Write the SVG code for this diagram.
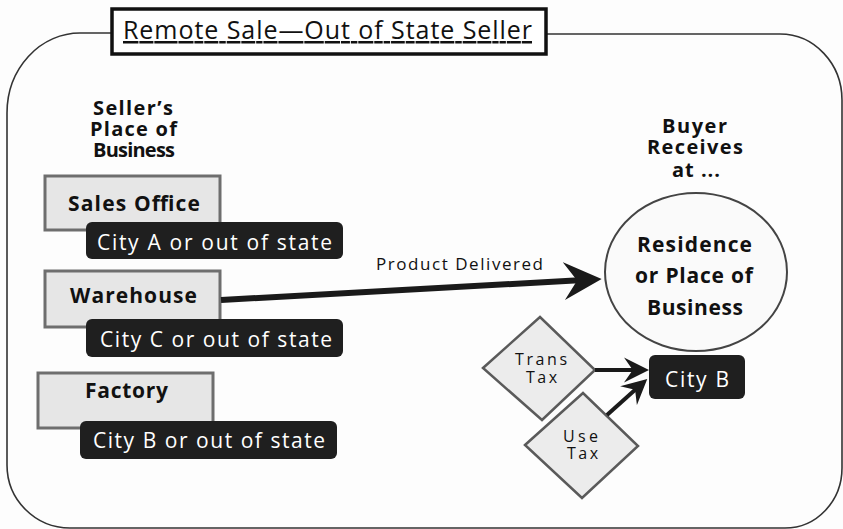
<svg xmlns="http://www.w3.org/2000/svg" width="843" height="529" viewBox="0 0 843 529">
<defs>
<style>
.t{font-family:"Open Sans","Noto Sans",sans-serif;fill:#111}
.b{font-weight:bold;font-size:21px}
.h{font-weight:bold;font-size:20px}
.w{fill:#fff;font-size:21px}
.box{fill:#e6e6e6;stroke:#6e6e6e;stroke-width:3}
.lab{fill:#1f1f1f}
.dia{fill:#ececec;stroke:#5a5a5a;stroke-width:2.5}
.con{stroke:#1a1a1a;fill:none}
</style>
<marker id="ah" viewBox="0 0 10 10" refX="4" refY="5" markerWidth="6.3" markerHeight="6.3" orient="auto" markerUnits="strokeWidth">
<path d="M0,0 L10,5 L0,10 L3.5,5 Z" fill="#1a1a1a"/>
</marker>
</defs>
<rect width="843" height="529" fill="#fdfdfd"/>
<g id="frame">
<path d="M113,33 H80 A73 80 0 0 0 7,113 V465 A63 63 0 0 0 70,528 H785 A57 60 0 0 0 842,468 V100 A62 66 0 0 0 780,34 H546" fill="none" stroke="#333" stroke-width="1.6"/>
</g>
<g id="title">
<rect x="112" y="9" width="434" height="45" fill="#fff" stroke="#111" stroke-width="3.5"/>
<text class="t" x="123" y="39" font-size="25" text-decoration="underline" textLength="409">Remote Sale—Out of State Seller</text>
</g>
<g id="seller-heading">
<text class="t h" x="93" y="115" textLength="80">Seller’s</text>
<text class="t h" x="90" y="136" textLength="87">Place of</text>
<text class="t h" x="93" y="157" textLength="82">Business</text>
</g>
<g id="buyer-heading">
<text class="t h" x="662" y="133" textLength="65">Buyer</text>
<text class="t h" x="647" y="154" textLength="96">Receives</text>
<text class="t h" x="672" y="177" textLength="48">at ...</text>
</g>
<g id="sales-office">
<rect class="box" x="45" y="176" width="175" height="54"/>
<text class="t b" x="68" y="211" textLength="132">Sales Office</text>
<rect class="lab" x="86" y="222" width="257" height="37" rx="6"/>
<text class="t w" x="97" y="250" textLength="235">City A or out of state</text>
</g>
<g id="warehouse">
<rect class="box" x="45" y="271" width="175" height="56"/>
<text class="t b" x="70" y="303" textLength="127">Warehouse</text>
<rect class="lab" x="86" y="319" width="257" height="38" rx="6"/>
<text class="t w" x="100" y="347" textLength="232">City C or out of state</text>
</g>
<g id="factory">
<rect class="box" x="38" y="373" width="175" height="55"/>
<text class="t b" x="85" y="398" textLength="83">Factory</text>
<rect class="lab" x="80" y="421" width="257" height="38" rx="6"/>
<text class="t w" x="93" y="448" textLength="232">City B or out of state</text>
</g>
<g id="residence">
<ellipse cx="696" cy="272" rx="91" ry="79" fill="#fafafa" stroke="#444" stroke-width="2"/>
<text class="t b" x="637" y="252" textLength="115">Residence</text>
<text class="t b" x="635" y="283" textLength="118">or Place of</text>
<text class="t b" x="647" y="315" textLength="96">Business</text>
</g>
<g id="city-b">
<rect class="lab" x="649" y="355" width="96" height="44" rx="6"/>
<text class="t w" x="665" y="387" textLength="64">City B</text>
</g>
<g id="trans-tax">
<polygon class="dia" points="483,368 540,317 595,370 542,420"/>
<text class="t" x="515" y="365" font-size="16" textLength="52">Trans</text>
<text class="t" x="526" y="383" font-size="16" textLength="31">Tax</text>
</g>
<g id="use-tax">
<polygon class="dia" points="525,445 583,393 638,446 582,498"/>
<text class="t" x="563" y="442" font-size="16" textLength="35">Use</text>
<text class="t" x="567" y="459" font-size="16" textLength="31">Tax</text>
</g>
<g id="connectors">
<line class="con" x1="221" y1="300" x2="579" y2="280.3" stroke-width="6" marker-end="url(#ah)"/>
<text class="t" x="376" y="270" font-size="17" textLength="167">Product Delivered</text>
<line class="con" x1="595" y1="370" x2="634" y2="370" stroke-width="4" marker-end="url(#ah)"/>
<line class="con" x1="607" y1="415" x2="636" y2="389" stroke-width="4" marker-end="url(#ah)"/>
</g>
</svg>
